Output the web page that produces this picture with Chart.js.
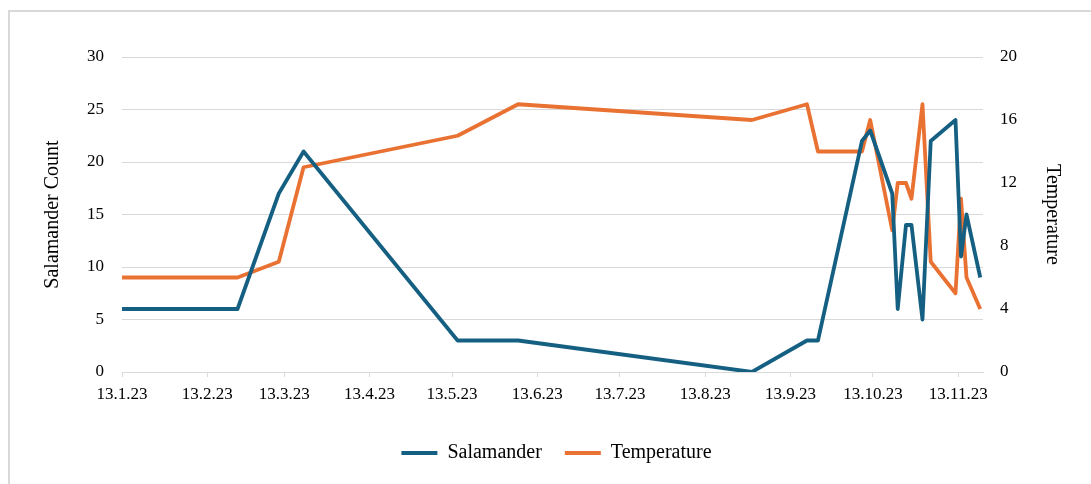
<!DOCTYPE html>
<html>
<head>
<meta charset="utf-8">
<script src="https://cdn.jsdelivr.net/npm/chart.js@4.4.1/dist/chart.umd.min.js"></script>
<style>
  html, body { margin: 0; padding: 0; background: #ffffff; }
  #wrap { position: relative; width: 1091px; height: 484px; overflow: hidden; }
  #frame { position: absolute; left: 8px; top: 10px; width: 1200px; height: 600px; border: 2px solid #d9d9d9; box-sizing: border-box; pointer-events: none; }
  canvas { position: absolute; left: 0; top: 0; }
</style>
</head>
<body>
<div id="wrap">
  <canvas id="c" width="1091" height="484"></canvas>
  <div id="frame"></div>
</div>
<script>
// Observation dates (d.m.yy)
const dates = ['13.1.23','24.2.23','11.3.23','20.3.23','15.5.23','6.6.23','30.8.23','19.9.23','23.9.23',
  '9.10.23','12.10.23','20.10.23','22.10.23','25.10.23','27.10.23','31.10.23','3.11.23','12.11.23','14.11.23','16.11.23','21.11.23'];
// Salamander counts (left axis)
const salamander = [6,6,17,21,3,3,0,3,3,22,23,17,6,14,14,5,22,24,11,15,9];
// Temperature (right axis)
const temperature = [6,6,7,13,15,17,16,17,14,14,16,9,12,12,11,17,7,5,11,6,4];
// X tick labels
const xTickLabels = ['13.1.23','13.2.23','13.3.23','13.4.23','13.5.23','13.6.23','13.7.23','13.8.23','13.9.23','13.10.23','13.11.23'];
const xEndDate = '22.11.23';

function toDay(s) {
  const [d, m, y] = s.split('.').map(Number);
  const base = Date.UTC(2023, 0, 13);
  return Math.round((Date.UTC(2000 + y, m - 1, d) - base) / 86400000);
}
const xs = dates.map(toDay);
const tickDays = xTickLabels.map(toDay);
const labelByDay = {};
tickDays.forEach((d, i) => labelByDay[d] = xTickLabels[i]);

const FONT = "'Liberation Serif', 'Times New Roman', serif";
const BLUE = '#156082';
const ORANGE = '#E97132';
const GRID = '#d9d9d9';

const shiftLegend = {
  id: 'shiftLegend',
  afterLayout(chart) {
    const l = chart.legend;
    if (l) { l.left += 11; l.right += 11; }
  }
};

new Chart(document.getElementById('c'), {
  type: 'line',
  data: {
    datasets: [
      { label: 'Salamander', data: xs.map((x, i) => ({x, y: salamander[i]})), borderColor: BLUE, backgroundColor: BLUE,
        borderWidth: 3.8, pointRadius: 0, tension: 0, yAxisID: 'y', borderJoinStyle: 'round' },
      { label: 'Temperature', data: xs.map((x, i) => ({x, y: temperature[i]})), borderColor: ORANGE, backgroundColor: ORANGE,
        borderWidth: 3.8, pointRadius: 0, tension: 0, yAxisID: 'y1', borderJoinStyle: 'round' }
    ]
  },
  plugins: [shiftLegend],
  options: {
    responsive: false,
    animation: false,
    devicePixelRatio: 1,
    layout: { padding: { top: 57, bottom: 11, left: 0, right: 0 } },
    plugins: {
      legend: {
        position: 'bottom',
        labels: {
          usePointStyle: true, pointStyle: 'line', pointStyleWidth: 36,
          font: { family: FONT, size: 20 }, color: '#000', padding: 23
        }
      },
      tooltip: { enabled: false }
    },
    scales: {
      x: {
        type: 'linear', min: 0, max: toDay(xEndDate),
        afterBuildTicks: (s) => { s.ticks = tickDays.map(v => ({ value: v })); },
        afterFit: (s) => { s.height = 48; },
        ticks: { autoSkip: false, maxRotation: 0, padding: 7, color: '#000',
          font: { family: FONT, size: 17 }, callback: (v) => labelByDay[v] ?? '' },
        grid: { drawOnChartArea: false, drawTicks: true, tickLength: 5, color: GRID, lineWidth: 1 },
        border: { display: true, color: GRID, width: 1 }
      },
      y: {
        position: 'left', min: 0, max: 30,
        afterFit: (s) => { s.width = 122; },
        ticks: { stepSize: 5, padding: 18, color: '#000', font: { family: FONT, size: 17 } },
        grid: { color: GRID, drawTicks: false, lineWidth: 1 },
        border: { display: false },
        title: { display: true, text: 'Salamander Count', color: '#000', font: { family: FONT, size: 20 }, padding: { top: 41, bottom: 0 } }
      },
      y1: {
        position: 'right', min: 0, max: 20,
        afterFit: (s) => { s.width = 108; },
        ticks: { stepSize: 4, padding: 17, color: '#000', font: { family: FONT, size: 17 } },
        grid: { drawOnChartArea: false, drawTicks: false },
        border: { display: false },
        title: { display: true, text: 'Temperature', color: '#000', font: { family: FONT, size: 20 }, padding: { top: 27, bottom: 0 } }
      }
    }
  }
});
</script>
</body>
</html>
